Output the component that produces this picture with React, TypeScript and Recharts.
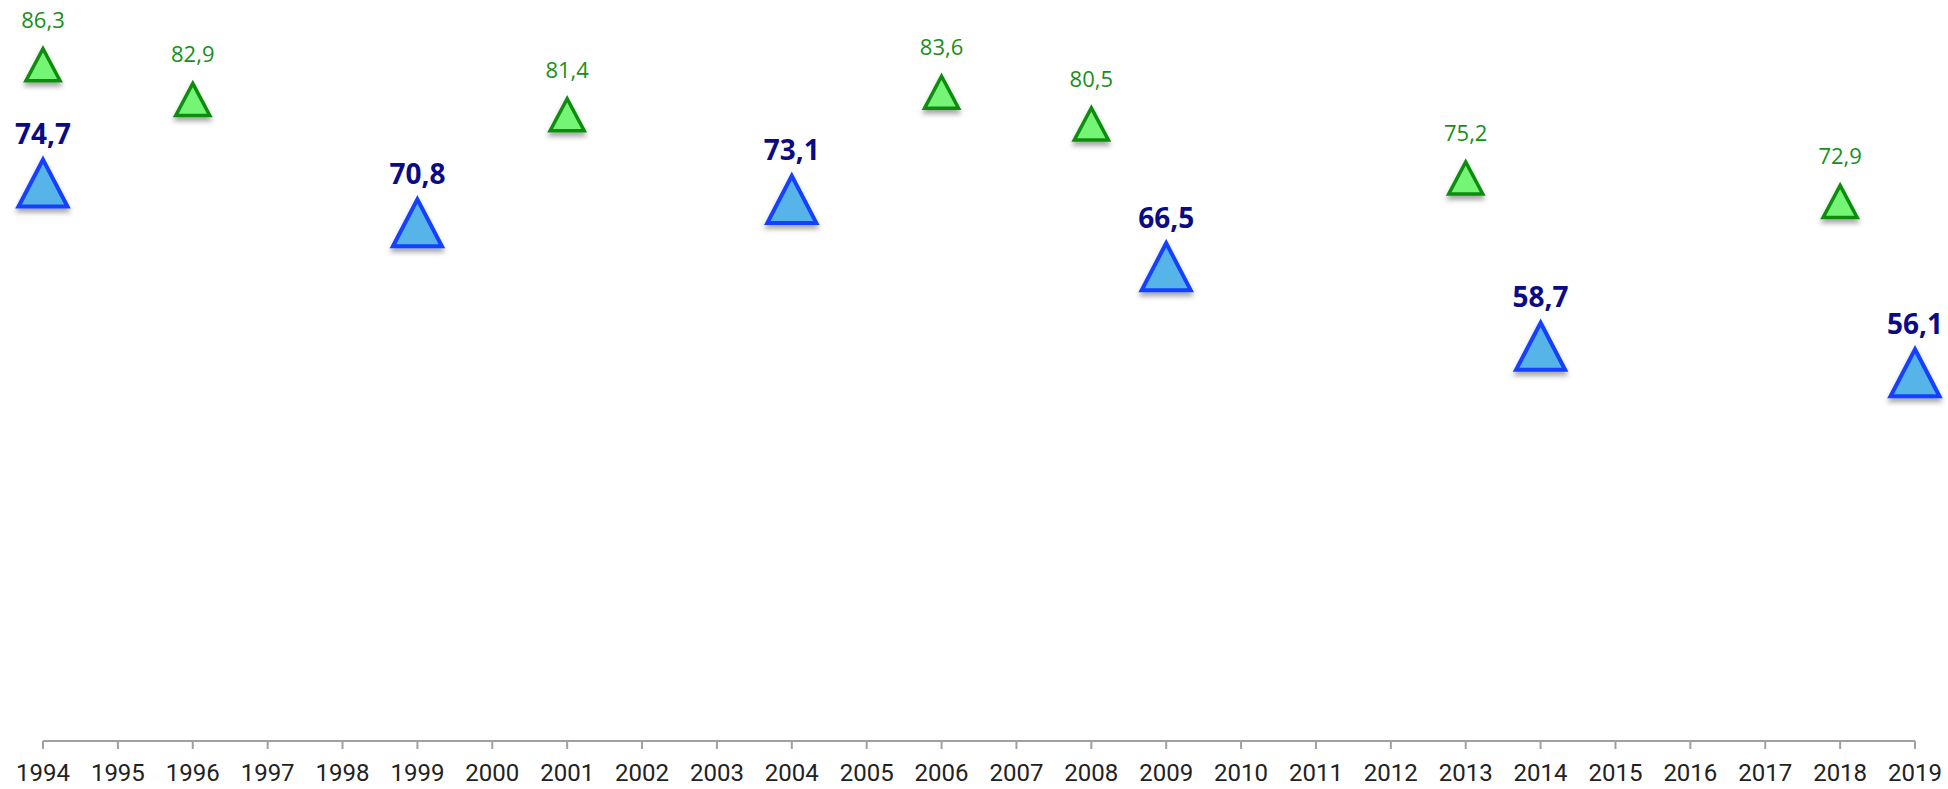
import React from "react";
import { ScatterChart, Scatter, XAxis, YAxis } from "recharts";

const tickYears = [1994, 1995, 1996, 1997, 1998, 1999, 2000, 2001, 2002, 2003, 2004, 2005, 2006, 2007, 2008, 2009, 2010, 2011, 2012, 2013, 2014, 2015, 2016, 2017, 2018, 2019];

const greenYears = [1994, 1996, 2001, 2006, 2008, 2013, 2018];
const greenValues = [86.3, 82.9, 81.4, 83.6, 80.5, 75.2, 72.9];

const blueYears = [1994, 1999, 2004, 2009, 2014, 2019];
const blueValues = [74.7, 70.8, 73.1, 66.5, 58.7, 56.1];

const greenData = greenYears.map((year, i) => ({ year, value: greenValues[i] }));
const blueData = blueYears.map((year, i) => ({ year, value: blueValues[i] }));

const fmt = (v: number) => v.toFixed(1).replace(".", ",");

const GreenShape = (props: any) => {
  const { cx, cy, payload } = props;
  if (cx == null || cy == null) return null;
  const h = 16;
  const w = 17;
  return (
    <g>
      <path
        d={`M${cx},${cy - h} L${cx + w},${cy + h} L${cx - w},${cy + h} Z`}
        fill="#74f574"
        stroke="#0f8c0f"
        strokeWidth={3.5}
        strokeLinejoin="miter"
        filter="url(#tri-shadow)"
      />
      <text
        x={cx}
        y={cy - 37}
        textAnchor="middle"
        fill="#17901a"
        fontFamily="'Open Sans', sans-serif"
        fontSize={22}
      >
        {fmt(payload.value)}
      </text>
    </g>
  );
};

const BlueShape = (props: any) => {
  const { cx, cy, payload } = props;
  if (cx == null || cy == null) return null;
  const h = 23.5;
  const w = 24.5;
  return (
    <g>
      <path
        d={`M${cx},${cy - h} L${cx + w},${cy + h} L${cx - w},${cy + h} Z`}
        fill="#56b4e8"
        stroke="#1540ff"
        strokeWidth={4}
        strokeLinejoin="miter"
        filter="url(#tri-shadow)"
      />
      <text
        x={cx}
        y={cy - 39}
        textAnchor="middle"
        fill="#0b0b85"
        fontFamily="'Open Sans', sans-serif"
        fontWeight={700}
        fontSize={28}
      >
        {fmt(payload.value)}
      </text>
    </g>
  );
};

export default function App() {
  return (
    <div style={{ position: "absolute", left: 0, top: 0, width: 1948, height: 789, background: "#ffffff" }}>
      <svg width={0} height={0} style={{ position: "absolute" }}>
        <defs>
          <filter id="tri-shadow" x="-50%" y="-50%" width="200%" height="200%">
            <feDropShadow dx={0} dy={4} stdDeviation={2.5} floodColor="#000000" floodOpacity={0.35} />
          </filter>
        </defs>
      </svg>
      <ScatterChart width={1948} height={789} margin={{ top: 27, right: 33, bottom: 0, left: 43 }}>
        <XAxis
          type="number"
          dataKey="year"
          domain={[1994, 2019]}
          ticks={tickYears}
          interval={0}
          height={48}
          stroke="#a0a0a0"
          axisLine={{ stroke: "#a0a0a0", strokeWidth: 2 }}
          tickLine={{ stroke: "#a0a0a0", strokeWidth: 2 }}
          tickSize={8}
          tickMargin={15}
          tick={{ fill: "#222222", fontSize: 24, fontFamily: "Roboto, sans-serif" }}
        />
        <YAxis type="number" dataKey="value" domain={[20, 90]} hide />
        <Scatter data={greenData} shape={<GreenShape />} isAnimationActive={false} />
        <Scatter data={blueData} shape={<BlueShape />} isAnimationActive={false} />
      </ScatterChart>
    </div>
  );
}
